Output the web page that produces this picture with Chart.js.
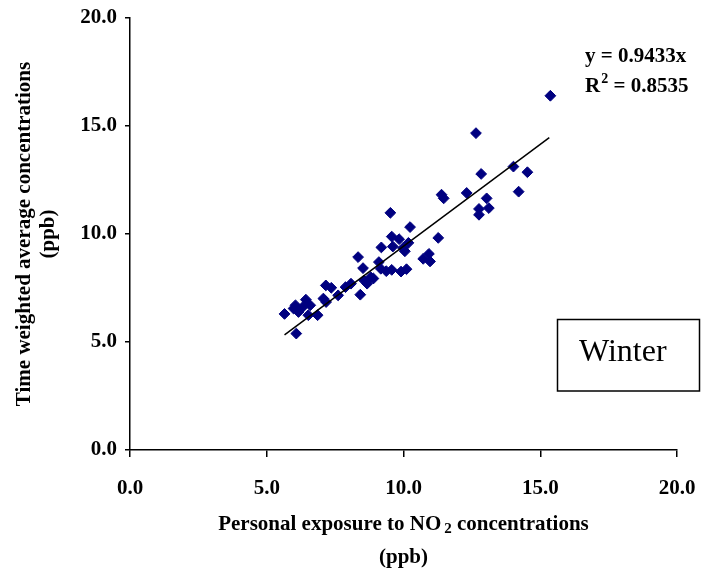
<!DOCTYPE html>
<html><head><meta charset="utf-8">
<script src="https://cdn.jsdelivr.net/npm/chart.js@4.4.0/dist/chart.umd.min.js"></script>
<style>html,body{margin:0;padding:0;background:#fff;}</style>
</head><body>
<canvas id="c" width="701" height="573"></canvas>
<script>
// Personal exposure to NO2 (ppb) vs time weighted average (ppb), winter
const exposureX = [5.65,6.08,5.98,6.05,6.16,6.32,6.43,6.59,6.52,6.86,7.07,7.17,7.16,7.36,7.61,7.88,8.08,8.34,8.42,8.52,8.56,8.67,8.80,8.90,9.10,9.19,9.17,9.37,9.57,9.91,10.11,9.52,9.57,9.84,9.61,10.05,9.98,10.18,10.24,10.72,10.93,10.97,11.27,11.39,11.47,12.31,13.04,12.76,13.12,12.76,12.65,14.02,14.53,12.84,14.21,15.37];
const twaY      = [6.30,5.39,6.55,6.70,6.39,6.62,6.96,6.70,6.24,6.24,7.01,6.85,7.62,7.51,7.16,7.54,7.70,8.93,7.19,8.42,7.85,7.70,8.00,7.94,8.70,9.38,8.39,8.28,8.34,8.26,8.37,10.98,9.88,9.76,9.42,9.20,9.35,9.59,10.32,8.85,9.08,8.73,9.82,11.82,11.65,11.90,11.65,11.16,11.20,10.89,14.67,13.12,12.86,12.78,11.96,16.40];
const trendX = [5.65, 15.33];
const trendY = [5.33, 14.46];
const xTicks = [0, 5, 10, 15, 20];
const yTicks = [0, 5, 10, 15, 20];
const eqLines = ['y = 0.9433x', 'R', '2', ' = 0.8535'];
const seasonLabel = 'Winter';
const xTitleParts = ['Personal exposure to NO', '2', ' concentrations'];
const xTitleLine2 = '(ppb)';
const yTitleLines = ['Time weighted average concentrations', '(ppb)'];

const FONT = "'Liberation Serif', 'Times New Roman', 'DejaVu Serif', serif";
const tickFont = {family: FONT, size: 21, weight: 'bold'};

const points = exposureX.map((x, i) => ({x: x, y: twaY[i]}));
const trend = trendX.map((x, i) => ({x: x, y: trendY[i]}));

const textPlugin = {
  id: 'texts',
  afterDraw(chart) {
    const ctx = chart.ctx;
    const ca = chart.chartArea;
    ctx.save();
    ctx.fillStyle = '#000';
    // equation
    ctx.font = 'bold 21px ' + FONT;
    ctx.textAlign = 'left';
    ctx.textBaseline = 'alphabetic';
    ctx.fillText(eqLines[0], 585, 62);
    let ex = 585;
    ctx.fillText(eqLines[1], ex, 92);
    ex += ctx.measureText(eqLines[1]).width;
    ctx.font = 'bold 14px ' + FONT;
    ctx.fillText(eqLines[2], ex + 1, 83);
    ex += ctx.measureText(eqLines[2]).width + 1;
    ctx.font = 'bold 21px ' + FONT;
    ctx.fillText(eqLines[3], ex, 92);
    // Winter box
    ctx.lineWidth = 1.5;
    ctx.strokeStyle = '#000';
    ctx.strokeRect(557.5, 319.5, 142, 71.5);
    ctx.font = '32px ' + FONT;
    ctx.fillText(seasonLabel, 579, 361);
    // x title
    const cx = (ca.left + ca.right) / 2;
    ctx.font = 'bold 21px ' + FONT;
    const w0 = ctx.measureText(xTitleParts[0]).width;
    ctx.font = 'bold 15px ' + FONT;
    const w1 = ctx.measureText(xTitleParts[1]).width + 3;
    ctx.font = 'bold 21px ' + FONT;
    const w2 = ctx.measureText(xTitleParts[2]).width;
    let sx = cx - (w0 + w1 + w2) / 2;
    const by = 530;
    ctx.fillText(xTitleParts[0], sx, by);
    ctx.font = 'bold 15px ' + FONT;
    ctx.fillText(xTitleParts[1], sx + w0 + 3, by + 3);
    ctx.font = 'bold 21px ' + FONT;
    ctx.fillText(xTitleParts[2], sx + w0 + w1, by);
    ctx.textAlign = 'center';
    ctx.textBaseline = 'middle';
    ctx.fillText(xTitleLine2, cx, 558);
    // y title
    const cy = (ca.top + ca.bottom) / 2;
    ctx.translate(0, cy);
    ctx.rotate(-Math.PI / 2);
    ctx.fillText(yTitleLines[0], 0, 25);
    ctx.fillText(yTitleLines[1], 0, 49);
    ctx.restore();
  }
};

new Chart(document.getElementById('c'), {
  type: 'scatter',
  data: {
    datasets: [
      {
        label: 'trend', data: trend, showLine: true, borderColor: '#000', borderWidth: 1.5,
        pointRadius: 0, order: 0, fill: false
      },
      {
        label: 'Winter', data: points, pointStyle: 'rectRot', pointRadius: 5.4,
        backgroundColor: '#000080', borderColor: '#000080', borderWidth: 1, order: 1
      }
    ]
  },
  options: {
    responsive: false,
    animation: false,
    devicePixelRatio: 1,
    layout: {padding: {top: 18, right: 24, left: 0, bottom: 0}},
    plugins: {legend: {display: false}, tooltip: {enabled: false}},
    scales: {
      x: {
        type: 'linear', min: 0, max: 20,
        afterBuildTicks: s => { s.ticks = xTicks.map(v => ({value: v})); },
        afterFit: s => { s.height = 123; s.paddingLeft = 0; s.paddingRight = 0; },
        ticks: {font: tickFont, color: '#000', padding: 19, maxRotation: 0, callback: v => Number(v).toFixed(1)},
        grid: {display: true, drawOnChartArea: false, drawTicks: true, tickLength: 7, color: '#000', lineWidth: 1.5},
        border: {display: true, color: '#000', width: 1.5}
      },
      y: {
        type: 'linear', min: 0, max: 20,
        afterBuildTicks: s => { s.ticks = yTicks.map(v => ({value: v})); },
        afterFit: s => { s.width = 130; s.paddingTop = 0; s.paddingBottom = 0; },
        ticks: {font: tickFont, color: '#000', padding: 8, callback: v => Number(v).toFixed(1)},
        grid: {display: true, drawOnChartArea: false, drawTicks: true, tickLength: 5, color: '#000', lineWidth: 1.5},
        border: {display: true, color: '#000', width: 1.5}
      }
    }
  },
  plugins: [textPlugin]
});
</script>
</body></html>
